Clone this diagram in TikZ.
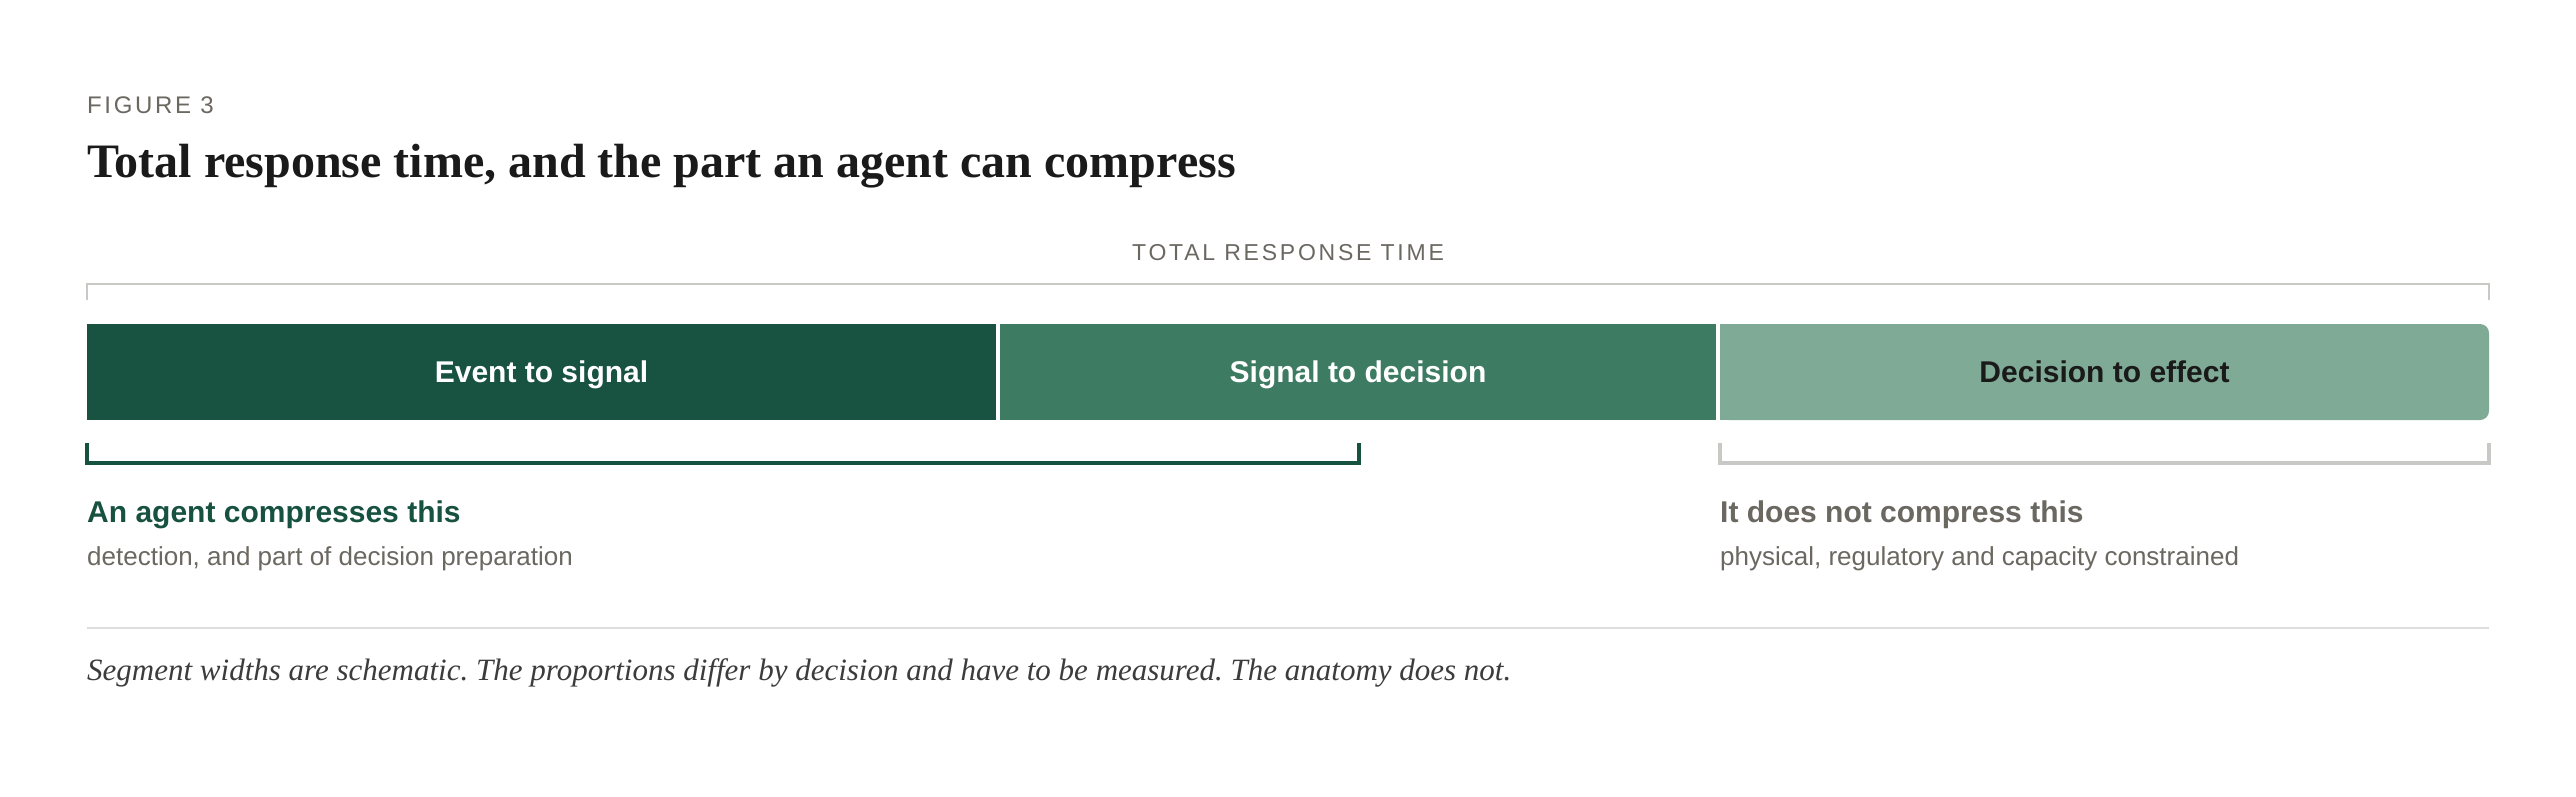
\documentclass[tikz,border=0pt]{standalone}
\usepackage{fontspec}
\setmainfont{Liberation Serif}
\setsansfont{Liberation Sans}
\newfontfamily\sans{Liberation Sans}
\newfontfamily\tracked[LetterSpace=12]{Liberation Sans}
\newfontfamily\trackedfig[LetterSpace=11]{Liberation Sans}
\definecolor{barA}{HTML}{185240}
\definecolor{barB}{HTML}{3D7B63}
\definecolor{barC}{HTML}{7FAA96}
\definecolor{greentext}{HTML}{17513F}
\definecolor{graytext}{HTML}{6B6761}
\definecolor{bracketgray}{HTML}{C8C8C4}
\definecolor{rulegray}{HTML}{DDDDDD}
\definecolor{ink}{HTML}{1A1A1A}
\tikzset{
  barbox/.style={inner sep=0pt, minimum height=96pt, text=white,
    text height=22pt, text depth=2pt,
    font=\sans\bfseries\fontsize{30}{36}\selectfont},
  headtext/.style={anchor=base west, inner sep=0pt,
    font=\sans\bfseries\fontsize{30}{36}\selectfont},
  desctext/.style={anchor=base west, inner sep=0pt, text=graytext,
    font=\sans\fontsize{26}{31}\selectfont},
  bracketline/.style={line width=3.5pt, line cap=butt, line join=miter},
}
\begin{document}
\frenchspacing
\begin{tikzpicture}[x=1pt,y=-1pt]
\useasboundingbox[fill=white] (0,0) rectangle (2576,796);
% header
\node[anchor=base west, inner sep=0pt, text=graytext,
  font=\trackedfig\fontsize{24}{28}\selectfont] (fig) at (87,113) {FIGURE 3};
\node[anchor=base west, inner sep=0pt, text=ink,
  font=\rmfamily\bfseries\fontsize{48}{56}\selectfont] (title) at (87,177)
  {Total response time, and the part an agent can compress};
% total bracket
\node[anchor=base, inner sep=0pt, text=graytext,
  font=\tracked\fontsize{23}{27}\selectfont] (total) at (1288,260) {TOTAL RESPONSE TIME};
\coordinate (tl) at (87,300);
\coordinate (tr) at (2489,300);
\draw[bracketgray, line width=2pt] (tl) -- ++(0,-16) -| (tr);
% bars
\node[barbox, fill=barA, minimum width=909pt] (b1) at (541.5,372) {Event to signal};
\node[barbox, fill=barB, minimum width=716pt] (b2) at (1358,372) {Signal to decision};
\fill[barC] (1720,324) rectangle (1740,420);
\node[barbox, fill=barC, text=ink, minimum width=769pt, rounded corners=9pt] (b3) at (2104.5,372) {Decision to effect};
% lower brackets
\coordinate (gl) at (87,443);
\coordinate (gr) at (1359,443);
\draw[greentext, bracketline] (gl) -- (87,463) -- (1359,463) -- (gr);
\coordinate (nl) at (1720,443);
\coordinate (nr) at (2489,443);
\draw[bracketgray, bracketline] (nl) -- (1720,463) -- (2489,463) -- (nr);
% labels
\node[headtext, text=greentext] (h1) at (87,522) {An agent compresses this};
\node[desctext] (d1) at (87,565) {detection, and part of decision preparation};
\node[headtext, text=graytext] (h2) at (1720,522) {It does not compress this};
\node[desctext] (d2) at (1720,565) {physical, regulatory and capacity constrained};
% rule and caption
\coordinate (rl) at (87,628);
\coordinate (rr) at (2489,628);
\draw[rulegray, line width=2pt] (rl) -- (rr);
\node[anchor=base west, inner sep=0pt, text=ink!85,
  font=\rmfamily\itshape\fontsize{31}{36}\selectfont] (cap) at (87,680)
  {Segment widths are schematic. The proportions differ by decision and have to be measured. The anatomy does not.};
\end{tikzpicture}
\end{document}
